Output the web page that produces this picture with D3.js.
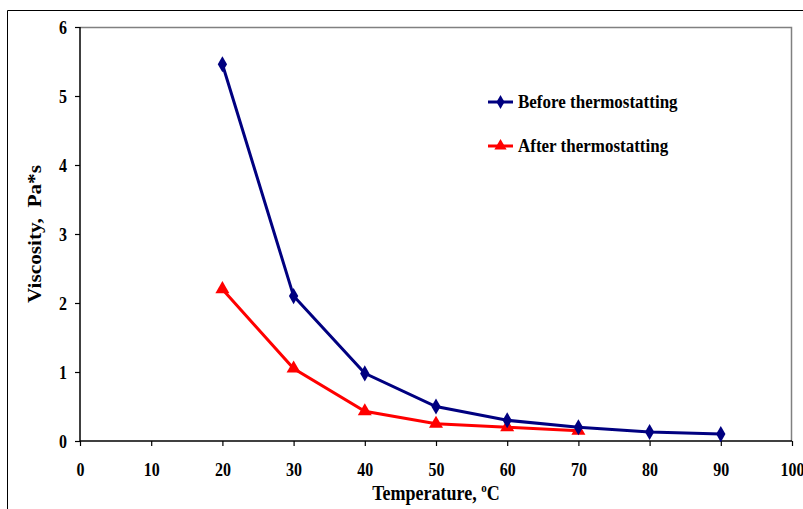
<!DOCTYPE html>
<html>
<head>
<meta charset="utf-8">
<script src="https://cdn.jsdelivr.net/npm/d3@7"></script>
<style>
  body { margin: 0; background: #fff; }
  text { font-family: "Liberation Serif", "Times New Roman", serif; font-weight: bold; }
</style>
</head>
<body>
<div id="chart"></div>
<script>
const temps = [20, 30, 40, 50, 60, 70, 80, 90];
const before = [5.46, 2.1, 0.98, 0.5, 0.3, 0.2, 0.13, 0.1];
const afterTemps = [20, 30, 40, 50, 60, 70];
const after = [2.2, 1.05, 0.43, 0.25, 0.2, 0.15];
const xTicks = [0, 10, 20, 30, 40, 50, 60, 70, 80, 90, 100];
const yTicks = [0, 1, 2, 3, 4, 5, 6];

const W = 803, H = 509;
const margins = { top: 27, left: 80, right: 11, bottom: 68 };
const innerW = W - margins.left - margins.right;
const innerH = H - margins.top - margins.bottom;
const stretch = 1.12; // the original text looks a bit tall

const svg = d3.select("#chart").append("svg").attr("width", W).attr("height", H);

// outer frame
svg.append("path").attr("d", `M7.5,${H} V10.5 H${W}`).attr("fill", "none").attr("stroke", "#000").attr("stroke-width", 1);

const g = svg.append("g").attr("transform", `translate(${margins.left},${margins.top})`);

const x = d3.scaleLinear().domain([0, 100]).range([0, innerW]);
const y = d3.scaleLinear().domain([0, 6]).range([innerH, 0]);

// grey plot border (top, right)
g.append("path").attr("d", `M0,0.5 H${innerW - 0.5} V${innerH}`)
  .attr("fill", "none").attr("stroke", "#808080").attr("stroke-width", 1.5);

const xAxis = g.append("g").attr("transform", `translate(0,${innerH})`)
  .call(d3.axisBottom(x).tickValues(xTicks).tickFormat(d3.format("d")).tickSize(5).tickSizeOuter(0));
const yAxis = g.append("g")
  .call(d3.axisLeft(y).tickValues(yTicks).tickFormat(d3.format("d")).tickSize(5).tickSizeOuter(0));
[xAxis, yAxis].forEach(a => {
  a.select(".domain").remove();
  a.selectAll("line").attr("stroke", "#000").attr("stroke-width", 1.2);
  a.selectAll("text").attr("fill", "#000").style("font-size", "16px")
    .style("font-family", "Liberation Serif").style("font-weight", "bold");
});
xAxis.selectAll("text").attr("y", 0).attr("dy", 0)
  .attr("transform", `translate(0,35) scale(1,${stretch})`);
yAxis.selectAll("text").attr("x", 0).attr("dy", 0)
  .attr("transform", `translate(-13,6) scale(1,${stretch})`);

// axis lines
g.append("line").attr("x1", 0).attr("x2", innerW).attr("y1", innerH).attr("y2", innerH)
  .attr("stroke", "#000").attr("stroke-width", 1.5);
g.append("line").attr("x1", 0).attr("x2", 0).attr("y1", 0).attr("y2", innerH)
  .attr("stroke", "#000").attr("stroke-width", 1.5);

// axis titles
const xt = svg.append("text")
  .attr("transform", `translate(${margins.left + innerW / 2},500) scale(1,${stretch})`)
  .attr("text-anchor", "middle").style("font-size", "18px").text("Temperature, ");
xt.append("tspan").attr("dy", -7).style("font-size", "11px").text("o");
xt.append("tspan").attr("dy", 7).text("C");

svg.append("text")
  .attr("transform", `translate(41,${margins.top + innerH / 2}) rotate(-90) scale(${stretch},1)`)
  .attr("text-anchor", "middle").style("font-size", "19px").text("Viscosity,\u00a0 Pa*s");

const line = d3.line().x(d => x(d[0])).y(d => y(d[1]));
const beforeData = temps.map((t, i) => [t, before[i]]);
const afterData = afterTemps.map((t, i) => [t, after[i]]);

const navy = "#000080", red = "#ff0000";

g.append("path").datum(afterData).attr("d", line).attr("fill", "none").attr("stroke", red).attr("stroke-width", 3);
g.selectAll(".tri").data(afterData).enter().append("path")
  .attr("transform", d => `translate(${x(d[0])},${y(d[1])})`)
  .attr("d", d3.symbol(d3.symbolTriangle, 85)).attr("fill", red);

g.append("path").datum(beforeData).attr("d", line).attr("fill", "none").attr("stroke", navy).attr("stroke-width", 3);
g.selectAll(".dia").data(beforeData).enter().append("path")
  .attr("transform", d => `translate(${x(d[0])},${y(d[1])})`)
  .attr("d", d3.symbol(d3.symbolDiamond, 75)).attr("fill", navy);

// legend
const legend = [
  { label: "Before thermostatting", color: navy, sym: d3.symbolDiamond, size: 55, y: 102 },
  { label: "After thermostatting", color: red, sym: d3.symbolTriangle, size: 65, y: 146 }
];
legend.forEach(l => {
  svg.append("line").attr("x1", 488).attr("x2", 513).attr("y1", l.y).attr("y2", l.y)
    .attr("stroke", l.color).attr("stroke-width", 3);
  svg.append("path").attr("transform", `translate(500.5,${l.y})`)
    .attr("d", d3.symbol(l.sym, l.size)).attr("fill", l.color);
  svg.append("text").attr("transform", `translate(518,${l.y + 6}) scale(1,${stretch})`)
    .style("font-size", "17px").text(l.label);
});
</script>
</body>
</html>
